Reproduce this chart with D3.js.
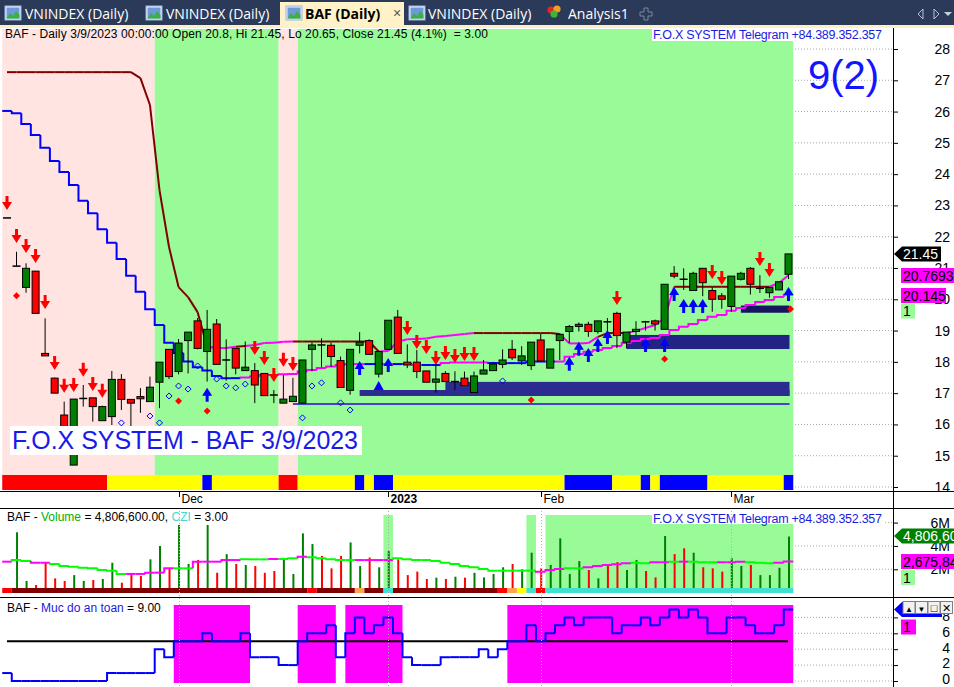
<!DOCTYPE html>
<html>
<head>
<meta charset="utf-8">
<script src="https://cdn.jsdelivr.net/npm/d3@7"></script>
<style>
body { margin: 0; background: #fff; }
svg { display: block; font-family: "Liberation Sans", Arial, sans-serif; }
</style>
</head>
<body>
<svg width="954" height="687"></svg>
<script>
// ---- data (BAF daily, 7 Nov 2022 .. 9 Mar 2023) ----
var opens = [22.6,21.06,20.38,20.9,18.27,17.48,16.3,14.7,16.83,16.85,
  16.12,16.25,17.44,16.8,16.89,16.73,17.35,18.4,17.69,18.68,
  19.31,18.33,19.21,18.06,18.43,17.72,17.72,17.63,16.94,16.68,
  16.73,16.68,18.4,18.54,18.53,18.04,17.09,18.53,18.68,17.61,
  18.4,19.43,17.99,17.99,17.71,17.35,17.63,17.37,17.48,17.02,
  17.61,17.72,17.92,18.4,18.03,17.88,18.7,17.8,18.68,18.97,
  19.13,19.2,18.97,19.28,19.55,18.63,18.97,19.28,19.31,19.04,
  20.83,20.64,20.28,20.99,20.28,20.11,19.77,20.64,20.99,20.35,
  20.21,20.3,20.8];
var highs = [22.6,21.52,21.15,20.9,19.39,17.5,16.73,16.81,17.26,16.85,
  16.6,17.71,17.61,16.8,17.16,17.53,17.99,18.4,18.73,18.95,
  19.4,19.66,19.37,18.72,18.43,18.65,17.96,17.63,17.1,17.58,
  17.49,18.06,18.62,18.75,18.62,18.17,18.4,18.95,18.72,18.33,
  19.33,19.66,18.56,18.38,17.71,18.06,17.7,17.7,17.69,17.69,
  18.06,18.0,18.4,18.7,18.5,18.63,18.9,18.41,18.9,19.18,
  19.26,19.28,19.31,19.4,19.6,18.95,19.3,19.31,19.35,20.48,
  21.06,20.99,20.88,20.99,20.4,20.2,20.74,20.88,21.03,20.77,
  20.38,20.56,21.45];
var lows = [22.6,21.06,20.21,19.55,18.19,17.0,15.73,14.7,16.57,16.09,
  16.12,15.98,16.46,15.93,16.37,16.73,16.52,17.45,17.6,17.63,
  18.4,17.37,17.92,17.4,17.6,17.72,16.68,16.92,16.68,16.68,
  16.73,16.68,17.7,17.84,17.84,17.18,16.95,18.27,18.24,17.5,
  18.4,18.27,17.8,17.48,17.35,17.02,17.37,17.1,17.24,17.02,
  17.61,17.72,17.8,18.06,17.9,17.74,18.03,17.8,18.06,18.6,
  18.97,18.8,18.9,18.9,18.44,18.44,18.85,19.0,19.0,19.04,
  20.67,20.3,20.28,20.1,19.6,19.7,19.6,20.6,20.15,20.2,
  20.05,20.3,20.65];
var closes = [22.6,21.06,20.99,19.55,18.19,17.0,15.73,16.81,16.83,16.57,
  16.57,17.44,16.8,16.68,16.82,17.19,17.99,17.53,18.6,18.95,
  18.43,19.04,17.92,18.06,17.8,17.83,17.26,16.92,16.94,16.81,
  16.9,18.06,18.54,18.54,18.17,17.18,18.4,18.63,18.24,18.33,
  19.33,18.27,17.9,17.69,17.35,17.45,17.37,17.37,17.24,17.55,
  17.74,17.93,18.06,18.13,18.19,18.63,18.03,18.41,18.88,19.13,
  19.2,18.97,19.31,19.28,18.84,18.95,19.04,19.28,19.21,20.48,
  20.74,20.64,20.83,20.53,20.0,20.0,20.74,20.83,20.48,20.35,
  20.38,20.56,21.45];

// volume in millions, and bar colour (g up / r down)
var volumes = [0.05,5.17,1.0,0.65,2.6,1.22,1.0,1.5,1.0,1.08,
  1.17,2.56,0.85,1.65,1.42,2.85,4.0,2.08,5.8,2.45,
  2.8,5.8,1.7,3.3,2.45,2.37,2.28,1.7,1.85,2.85,
  1.6,5.08,4.16,3.14,2.08,3.14,4.3,2.28,3.0,2.17,
  3.56,2.85,1.5,1.8,1.17,1.28,1.17,1.36,1.28,1.7,
  1.3,1.6,2.17,2.45,2.0,3.42,2.08,2.37,4.65,1.6,
  2.7,1.94,1.22,2.45,2.62,1.94,2.8,1.85,1.3,4.85,
  3.3,3.8,3.42,2.17,2.08,1.8,2.94,2.28,2.37,1.5,
  1.5,2.13,4.8066];
var volDir = ("rggrrrrggr" + "ggrrrggrgg" + "rgrgrgrrrg" + "gggrrrggrg" + "grrrrgrgrg" +
  "gggrggrggg" + "grgrrggrrg" + "rrgrrrggrg" + "ggg").split("");
var volMA = [2.65,2.79,2.71,2.56,2.56,2.45,2.28,2.22,2.13,2.08,
  1.94,1.88,1.6,1.6,1.6,1.71,1.71,2.08,2.08,2.08,
  2.65,2.65,2.65,2.79,2.79,2.85,2.85,2.85,2.88,2.88,
  2.94,3.08,3.02,2.94,2.85,2.79,2.79,2.79,2.79,2.79,
  2.79,2.94,2.85,2.79,2.79,2.71,2.56,2.45,2.28,2.17,
  2.02,1.88,1.88,1.88,1.88,1.88,1.79,1.94,2.02,2.08,
  2.08,2.17,2.28,2.37,2.42,2.51,2.56,2.51,2.6,2.6,
  2.65,2.65,2.65,2.6,2.6,2.6,2.6,2.65,2.6,2.56,
  2.51,2.56,2.6758];
var volMARuns = [[0,0,"m"],[1,2,"g"],[3,4,"m"],[5,12,"g"],[13,17,"m"],[18,19,"g"],[20,24,"m"],
  [25,27,"g"],[28,28,"m"],[29,30,"g"],[31,31,"m"],[32,36,"g"],[37,40,"m"],[41,55,"g"],
  [56,58,"m"],[59,60,"g"],[61,65,"m"],[66,67,"g"],[68,69,"m"],[70,70,"g"],[71,71,"m"],
  [72,74,"g"],[75,77,"m"],[78,80,"g"],[81,82,"m"]];
var volBaseRuns = [[0,0,"r"],[1,31,"d"],[32,32,"r"],[33,36,"d"],[37,37,"o"],[38,39,"d"],[40,40,"c"],
  [41,51,"d"],[52,52,"r"],[53,53,"o"],[54,54,"y"],[55,55,"c"],[56,56,"r"],[57,82,"c"]];
var volHighlight = [[40,40],[55,55],[57,82]];

// trailing lines on the price pane
var trailA = [27.26,27.26,27.26,27.26,27.26,27.26,27.26,27.26,27.26,27.26,
  27.26,27.26,27.26,27.26,27.07,26.21,23.49,21.67,20.39,20.07,
  19.59,18.48,18.44,18.44,18.48,18.51,18.54,18.6,18.61,18.64,
  18.65,18.65,18.65,18.65,18.65,18.65,18.65,18.65,18.65,18.33,
  18.35,18.64,18.72,18.73,18.75,18.8,18.83,18.86,18.89,18.92,
  18.92,18.92,18.92,18.92,18.92,18.92,18.92,18.92,18.89,18.59,
  18.59,18.6,18.8,18.92,18.92,18.92,18.99,19.08,19.18,19.4,
  20.4,20.4,20.4,20.4,20.4,20.4,20.4,20.4,20.4,20.4,
  20.4,20.52,20.7693];
var trailARuns = [[1,21,"r"],[22,24,"m"],[25,25,"r"],[26,30,"m"],[31,39,"r"],[40,49,"m"],
  [50,58,"r"],[59,62,"m"],[63,65,"r"],[66,70,"m"],[71,80,"r"],[81,82,"m"]];
var trailB = [26.02,25.95,25.6,25.25,24.84,24.42,24.07,23.65,23.15,22.75,
  22.24,21.81,21.29,20.75,20.24,19.68,19.18,18.61,18.28,18.01,
  17.83,17.72,17.55,17.48,17.48,17.5,17.53,17.58,17.58,17.6,
  17.61,17.69,17.74,17.8,17.85,17.9,17.93,17.93,17.93,17.93,
  17.93,17.93,17.93,17.9,17.9,17.9,17.96,17.98,17.98,17.98,
  17.98,17.96,17.96,17.96,17.96,18.01,18.01,18.01,18.01,18.16,
  18.25,18.32,18.38,18.44,18.51,18.6,18.67,18.73,18.76,18.86,
  19.02,19.12,19.21,19.34,19.44,19.5,19.63,19.72,19.82,19.91,
  19.98,20.07,20.145];
var trailBRuns = [[0,24,"b"],[25,37,"m"],[38,39,"b"],[40,40,"m"],[41,42,"b"],[43,43,"m"],
  [44,45,"b"],[46,50,"m"],[51,57,"b"],[58,82,"m"]];

// signals
var sellBars = [0,1,2,3,4,5,6,7,8,9,10,26,27,28,29,30,42,43,44,45,46,47,48,49,64,74,75,79,80];
var sellTips = [22.85,21.8,21.48,21.16,19.69,17.74,17.01,17.04,17.52,17.07,16.85,18.22,17.9,17.36,17.84,17.71,
  18.86,18.41,18.25,17.9,18.06,17.96,18.03,18.03,19.82,20.65,20.46,21.06,20.71];
var buyBars = [67,69,21,37,40,59,60,61,62,63,70,71,72,73,82];
var buyTips = [18.76,18.76,17.17,18.03,18.12,18.16,18.64,18.44,18.76,19.02,20.39,20.01,20.01,20.01,20.39];
var ringBars = [12,15,16,17,18,19,20,22,23,24,25,31,32,33,35,36,52];
var ringPrices = [16.05,16.27,16.05,16.91,17.23,17.13,17.87,17.45,17.23,17.17,17.29,16.21,17.23,17.33,16.69,16.46,17.39];
var dotBars = [1,18,21,55,69,82];
var dotPrices = [20.11,16.75,16.43,16.78,18.09,19.69];

// support zones [fromBar, toBar, low, high]
var zones = [[37,82,16.91,17.1],[46,82,16.91,17.36],[65,82,18.41,18.86],[77,82,19.57,19.8]];
var supportLine = [30,82,16.65];

// background state and bottom strip
var bgRuns = [[0,15,"p"],[16,28,"g"],[29,30,"p"],[31,82,"g"]];
var stripRuns = [[0,10,"r"],[11,20,"y"],[21,21,"b"],[22,28,"y"],[29,30,"r"],[31,36,"y"],[37,37,"b"],
  [38,38,"y"],[39,40,"b"],[41,58,"y"],[59,63,"b"],[64,66,"y"],[67,67,"b"],[68,68,"y"],
  [69,73,"b"],[74,81,"y"],[82,82,"b"]];

// "Muc do an toan" pane
var safety = [1,0,0,0,0,0,0,0,0,0,
  0,1,1,1,1,1,4,3,5,5,
  5,6,5,5,5,6,3,3,3,2,
  2,5,6,6,7,3,6,8,6,7,
  8,6,3,2,2,2,3,3,3,3,
  4,3,4,5,5,7,5,6,7,8,
  7,8,8,8,6,7,7,8,7,8,
  9,8,9,8,6,6,8,8,7,6,
  6,7,9];
var safetyZones = [[18,25],[31,34],[36,41],[53,82]];

var tickBars = [18,40,56,76];
var tickLabels = ["Dec","2023","Feb","Mar"];
var priceTicks = d3.range(14,29);
var tabNames = ["VNINDEX (Daily)","VNINDEX (Daily)","BAF (Daily)","VNINDEX (Daily)","Analysis1"];

// ---- scales ----
var svg = d3.select("svg");
var x = d3.scaleLinear().domain([0,82]).range([7,788.5]);
var bw = x(1) - x(0);
function edge(i) { return x(i) - bw / 2; }
var y = d3.scaleLinear().domain([14,28]).range([487,49]);
var yv = d3.scaleLinear().domain([0,6]).range([592.6,522.6]);
var ys = d3.scaleLinear().domain([0,8]).range([681,617.4]);

function expand(runs) {
  var out = [];
  runs.forEach(function(r) { for (var i = r[0]; i <= r[1]; i++) out[i] = r[2]; });
  return out;
}
var col = {r:"#ff0000", d:"#800000", m:"#ff00ff", b:"#0000ff", g:"#00ff00", y:"#ffff00",
           o:"#ffa54f", c:"#40e0d0", p:"#ffe4e1"};

// ---- tab bar ----
var tb = svg.append("g");
tb.append("rect").attr("width",954).attr("height",27).attr("fill","#2b3a58");
tb.append("rect").attr("y",25).attr("width",954).attr("height",3).attr("fill","#fdf0c4");
tb.append("rect").attr("x",280).attr("y",2).attr("width",124).attr("height",25).attr("fill","#fff2c8");
var tabX = [25,166,305,428,568], iconX = [5,146,286,409];
iconX.forEach(function(ix) {
  tb.append("rect").attr("x",ix).attr("y",6).attr("width",16).attr("height",14).attr("fill","#e8f0ff").attr("stroke","#9fb4d8");
  tb.append("rect").attr("x",ix+1.5).attr("y",7.5).attr("width",13).attr("height",11).attr("fill","#6f9ad8");
  tb.append("path").attr("d","M"+(ix+1.5)+",18.5 L"+(ix+5)+",13 L"+(ix+8)+",16 L"+(ix+11)+",11 L"+(ix+14.5)+",15 V18.5 Z").attr("fill","#3cb043");
});
[["#e02828",551,10],["#f0a020",557,9],["#38b838",554,14]].forEach(function(c) {
  tb.append("circle").attr("cx",c[1]).attr("cy",c[2]).attr("r",3.6).attr("fill",c[0]);
});
tb.selectAll("text.tab").data(tabNames).enter().append("text")
  .attr("x", function(d,i){ return tabX[i]; }).attr("y",19)
  .attr("font-family","'Open Sans', 'Noto Sans', sans-serif").attr("font-size",14)
  .attr("font-weight", function(d,i){ return i == 2 ? "bold" : "normal"; })
  .attr("fill", function(d,i){ return i == 2 ? "#000" : "#fff"; })
  .text(function(d){ return d; });
tb.append("text").attr("x",393).attr("y",18).attr("font-size",14).attr("fill","#555").text("\u00d7");
tb.append("path").attr("d","M644,8h4v4h4v4h-4v4h-4v-4h-4v-4h4z").attr("fill","none").attr("stroke","#7d879c");
tb.append("path").attr("d","M923,9 L918,14 L923,19 Z").attr("fill","none").attr("stroke","#b8c2d6");
tb.append("path").attr("d","M934,9 L939,14 L934,19 Z").attr("fill","none").attr("stroke","#b8c2d6");
tb.append("path").attr("d","M944,12 H952 L948,16 Z").attr("fill","#c8d0e0");

// ---- price pane ----
var main = svg.append("g");
// dotted grid in the free area
main.selectAll("line.grid").data(priceTicks).enter().append("line")
  .attr("x1",795).attr("x2",893).attr("y1",function(d){ return y(d); }).attr("y2",function(d){ return y(d); })
  .attr("stroke","#a8a8a8").attr("stroke-dasharray","1,2");
bgRuns.forEach(function(r) {
  main.append("rect").attr("x",edge(r[0])).attr("y",29).attr("width",edge(r[1]+1)-edge(r[0])).attr("height",446)
    .attr("fill", r[2] == "p" ? "#ffe4e1" : "#98fb98");
});
stripRuns.forEach(function(r) {
  main.append("rect").attr("x",edge(r[0])).attr("y",475).attr("width",edge(r[1]+1)-edge(r[0])).attr("height",15)
    .attr("fill", col[r[2]]);
});

// hidden buy arrows sit under the zones
function arrow(g, i, tip, up, fill) {
  var cx = x(i), t = y(tip), s = up ? 1 : -1;
  var p = "M"+cx+","+t+" L"+(cx+5)+","+(t+s*8)+" L"+(cx+1.5)+","+(t+s*8)+" L"+(cx+1.5)+","+(t+s*14)+
          " L"+(cx-1.5)+","+(t+s*14)+" L"+(cx-1.5)+","+(t+s*8)+" L"+(cx-5)+","+(t+s*8)+" Z";
  g.append("path").attr("d",p).attr("fill",fill);
}
var sig = main.append("g");
buyBars.slice(0,2).forEach(function(b,k){ arrow(sig, b, buyTips[k], true, "#0000ff"); });

main.append("line").attr("x1",x(supportLine[0])).attr("x2",x(supportLine[1])+1)
  .attr("y1",y(supportLine[2])).attr("y2",y(supportLine[2])).attr("stroke","#4444cc").attr("stroke-width",2);
var zoneFill = ["#2c2c90","#2c2c90","#232386","#151560"];
zones.forEach(function(z,k) {
  main.append("rect").attr("x",x(z[0])).attr("y",y(z[3])).attr("width",x(z[1])-x(z[0])+1)
    .attr("height",y(z[2])-y(z[3])).attr("fill",zoneFill[k]);
});

// trail lines
var kA = expand(trailARuns), kB = expand(trailBRuns);
var lines = main.append("g").attr("fill","none").attr("stroke-width",2);
trailA.forEach(function(v,i) {
  if (i == 0) return;
  lines.append("path").attr("d","M"+x(i-1)+","+y(trailA[i-1])+"L"+x(i)+","+y(v))
    .attr("stroke", col[kA[i] == "r" ? "d" : kA[i]]);
});
trailB.forEach(function(v,i) {
  var prev = i ? trailB[i-1] : v;
  lines.append("path").attr("d","M"+edge(i)+","+y(prev)+"V"+y(v)+"H"+edge(i+1))
    .attr("stroke", col[kB[i]]);
});

// candles
var bars = closes.map(function(c,i){ return {i:i, o:opens[i], h:highs[i], l:lows[i], c:c}; });
var cg = main.append("g");
cg.selectAll("line.wick").data(bars).enter().append("line")
  .attr("x1",function(d){ return x(d.i); }).attr("x2",function(d){ return x(d.i); })
  .attr("y1",function(d){ return y(d.h); }).attr("y2",function(d){ return y(d.l); })
  .attr("stroke","#000");
cg.selectAll("rect.body").data(bars.filter(function(d){ return d.o != d.c; })).enter().append("rect")
  .attr("x",function(d){ return x(d.i) - 3.5; }).attr("width",7)
  .attr("y",function(d){ return y(Math.max(d.o,d.c)); })
  .attr("height",function(d){ return Math.abs(y(d.o) - y(d.c)); })
  .attr("fill",function(d){ return d.c > d.o ? "#008000" : "#ff0000"; })
  .attr("stroke","#000");
cg.selectAll("line.doji").data(bars.filter(function(d){ return d.o == d.c; })).enter().append("line")
  .attr("x1",function(d){ return x(d.i) - 4; }).attr("x2",function(d){ return x(d.i) + 4; })
  .attr("y1",function(d){ return y(d.c); }).attr("y2",function(d){ return y(d.c); })
  .attr("stroke","#000").attr("stroke-width",1.5);

// signals on top
sig.raise();
sellBars.forEach(function(b,k){ arrow(sig, b, sellTips[k], false, "#ff0000"); });
buyBars.slice(2).forEach(function(b,k){ arrow(sig, b, buyTips[k+2], true, "#0000ff"); });
sig.append("path").attr("d","M"+x(39)+","+y(17.39)+" L"+(x(39)+5)+","+y(17.1)+" L"+(x(39)-5)+","+y(17.1)+" Z").attr("fill","#0000ff");
ringBars.forEach(function(b,k) {
  var cx = x(b), cy = y(ringPrices[k]);
  sig.append("path").attr("d","M"+cx+","+(cy-3)+" L"+(cx+3)+","+cy+" L"+cx+","+(cy+3)+" L"+(cx-3)+","+cy+" Z")
    .attr("fill","none").attr("stroke","#0000ff");
});
dotBars.forEach(function(b,k) {
  var cx = x(b) + (b == 82 ? 2 : 0), cy = y(dotPrices[k]);
  sig.append("path").attr("d","M"+cx+","+(cy-3.5)+" L"+(cx+3.5)+","+cy+" L"+cx+","+(cy+3.5)+" L"+(cx-3.5)+","+cy+" Z")
    .attr("fill","#ff0000");
});

// texts on the price pane
main.append("text").attr("x",5).attr("y",38).attr("font-size",12).attr("fill","#000")
  .attr("textLength",483).attr("xml:space","preserve")
  .text("BAF - Daily 3/9/2023 00:00:00 Open 20.8, Hi 21.45, Lo 20.65, Close 21.45 (4.1%)  = 3.00");
main.append("rect").attr("x",652).attr("y",28).attr("width",231).attr("height",13).attr("fill","#fff");
main.append("text").attr("x",653).attr("y",39).attr("font-size",12.5).attr("fill","#1c1ce0")
  .attr("textLength",229).text("F.O.X SYSTEM Telegram +84.389.352.357");
main.append("text").attr("x",808).attr("y",89).attr("font-size",40).attr("fill","#1414ff").text("9(2)");
main.append("rect").attr("x",10).attr("y",426).attr("width",352).attr("height",29).attr("fill","#fff");
main.append("text").attr("x",12).attr("y",449).attr("font-size",25).attr("fill","#1a1ae8")
  .attr("textLength",346).text("F.O.X SYSTEM - BAF 3/9/2023");

// ---- volume pane ----
var vol = svg.append("g");
volHighlight.forEach(function(r) {
  vol.append("rect").attr("x",edge(r[0])).attr("y",515).attr("width",edge(r[1]+1)-edge(r[0])).attr("height",77)
    .attr("fill","#98fb98");
});
vol.selectAll("line.grid").data([2,4,6]).enter().append("line")
  .attr("x1",795).attr("x2",893).attr("y1",function(d){ return yv(d); }).attr("y2",function(d){ return yv(d); })
  .attr("stroke","#a8a8a8").attr("stroke-dasharray","1,2");
vol.selectAll("line.vbar").data(volumes).enter().append("line")
  .attr("x1",function(d,i){ return x(i) + 0.5; }).attr("x2",function(d,i){ return x(i) + 0.5; })
  .attr("y1",yv(0)).attr("y2",function(d){ return yv(d); })
  .attr("stroke",function(d,i){ return volDir[i] == "g" ? "#008000" : "#ff0000"; }).attr("stroke-width",2);
var kM = expand(volMARuns);
volMA.forEach(function(v,i) {
  var prev = i ? volMA[i-1] : v;
  vol.append("path").attr("d","M"+edge(i)+","+yv(prev)+"V"+yv(v)+"H"+edge(i+1))
    .attr("fill","none").attr("stroke",col[kM[i]]).attr("stroke-width",2);
});
volBaseRuns.forEach(function(r) {
  vol.append("rect").attr("x",edge(r[0])).attr("y",588).attr("width",edge(r[1]+1)-edge(r[0])).attr("height",5)
    .attr("fill",col[r[2]]);
});
vol.append("text").attr("x",7).attr("y",521).attr("font-size",12).attr("fill","#000")
  .html('BAF - <tspan fill="#00b000">Volume</tspan> = 4,806,600.00, <tspan fill="#40d8d0">CZI</tspan> = 3.00');
vol.append("rect").attr("x",652).attr("y",512).attr("width",231).attr("height",12).attr("fill","#fff");
vol.append("text").attr("x",653).attr("y",522.5).attr("font-size",12.5).attr("fill","#1c1ce0")
  .attr("textLength",229).text("F.O.X SYSTEM Telegram +84.389.352.357");

// ---- safety pane ----
var sp = svg.append("g");
safetyZones.forEach(function(r) {
  sp.append("rect").attr("x",edge(r[0])).attr("y",605).attr("width",edge(r[1]+1)-edge(r[0])).attr("height",78)
    .attr("fill","#ff00ff");
});
sp.selectAll("line.grid").data([0,2,4,6,8]).enter().append("line")
  .attr("x1",795).attr("x2",893).attr("y1",function(d){ return ys(d); }).attr("y2",function(d){ return ys(d); })
  .attr("stroke","#a8a8a8").attr("stroke-dasharray","1,2");
sp.append("line").attr("x1",7).attr("x2",788).attr("y1",ys(5)).attr("y2",ys(5)).attr("stroke","#000").attr("stroke-width",2);
safety.forEach(function(v,i) {
  var prev = i ? safety[i-1] : v;
  sp.append("path").attr("d","M"+edge(i)+","+ys(prev)+"V"+ys(v)+"H"+edge(i+1))
    .attr("fill","none").attr("stroke","#0000ff").attr("stroke-width",2);
});
sp.append("text").attr("x",7).attr("y",612).attr("font-size",12).attr("fill","#000")
  .html('BAF - <tspan fill="#1a1ae0">Muc do an toan</tspan> = 9.00');

// vertical dotted date grid in lower panes
tickBars.forEach(function(b) {
  [[508,597],[598,687]].forEach(function(r) {
    svg.append("line").attr("x1",Math.round(x(b))+0.5).attr("x2",Math.round(x(b))+0.5).attr("y1",r[0]).attr("y2",r[1])
      .attr("stroke","#b0b0b0").attr("stroke-dasharray","1,2");
  });
});

// ---- frames and axes ----
var fr = svg.append("g").attr("stroke","#000");
[491,508,597].forEach(function(yy){ fr.append("line").attr("x1",0).attr("x2",954).attr("y1",yy+0.5).attr("y2",yy+0.5); });
fr.append("line").attr("x1",893.5).attr("x2",893.5).attr("y1",28).attr("y2",687);

tickBars.forEach(function(b,k) {
  var tx = Math.round(x(b)) + 0.5;
  svg.append("line").attr("x1",tx).attr("x2",tx).attr("y1",491).attr("y2",497).attr("stroke","#000");
  svg.append("text").attr("x",tx + 2).attr("y",503).attr("font-size",12)
    .attr("font-weight", k == 1 ? "bold" : "normal").text(tickLabels[k]);
});

function rightAxis(scale, values, fmt) {
  var g = svg.append("g").attr("transform","translate(893,0)")
    .call(d3.axisRight(scale).tickValues(values).tickSize(5).tickFormat(fmt));
  g.select(".domain").remove();
  g.selectAll("text").attr("x",57).attr("text-anchor","end").attr("fill","#000");
  g.attr("font-size",14).attr("font-family","'Liberation Sans', Arial, sans-serif");
  return g;
}
rightAxis(y, priceTicks, d3.format("d"));
rightAxis(yv, [2,4,6], function(d){ return d + "M"; });
rightAxis(ys, [0,2,4,6,8], d3.format("d")).selectAll("text").attr("dy","0.2em");

// value tags
function tag(g, yy, w, fill, txt, color, arrowTip) {
  var top = yy - 7.5;
  if (arrowTip) {
    g.append("path").attr("d","M894,"+yy+" L902,"+top+" H"+(902+w)+" V"+(top+15)+" H902 Z").attr("fill",fill);
  } else {
    g.append("rect").attr("x",901).attr("y",top).attr("width",w).attr("height",15).attr("fill",fill);
  }
  if (txt) g.append("text").attr("x",903).attr("y",yy+5).attr("font-size",14).attr("fill",color).text(txt);
}
var tg = svg.append("g");
tag(tg, y(21.45), 39, "#000", "21.45", "#fff", true);
tag(tg, 275.5, 53, "#ff00ff", "20.7693", "#000", false);
tag(tg, 295.5, 45, "#ff00ff", "20.145", "#000", false);
tag(tg, 311, 14, "#98fb98", "1", "#000", false);
tag(tg, 536, 52, "#008000", "4,806,600", "#fff", true);
tag(tg, 561.5, 53, "#ff00ff", "2,675,840", "#000", false);
tag(tg, 577.5, 14, "#98fb98", "1", "#000", false);
tag(tg, 609.5, 40, "#0000ff", "", "#000", true);
tag(tg, 627, 15, "#ff00ff", "1", "#000", false);

// little pane buttons
["\u25b2","\u25bc","\u25a1","\u2715"].forEach(function(s,k) {
  var bx = 903 + k * 12.5;
  tg.append("rect").attr("x",bx).attr("y",601.5).attr("width",12).attr("height",12).attr("fill","#f2f2f2").attr("stroke","#808080");
  tg.append("text").attr("x",bx + 6).attr("y",611.5).attr("text-anchor","middle").attr("font-size",k < 2 ? 8 : 11).text(s);
});
</script>
</body>
</html>
